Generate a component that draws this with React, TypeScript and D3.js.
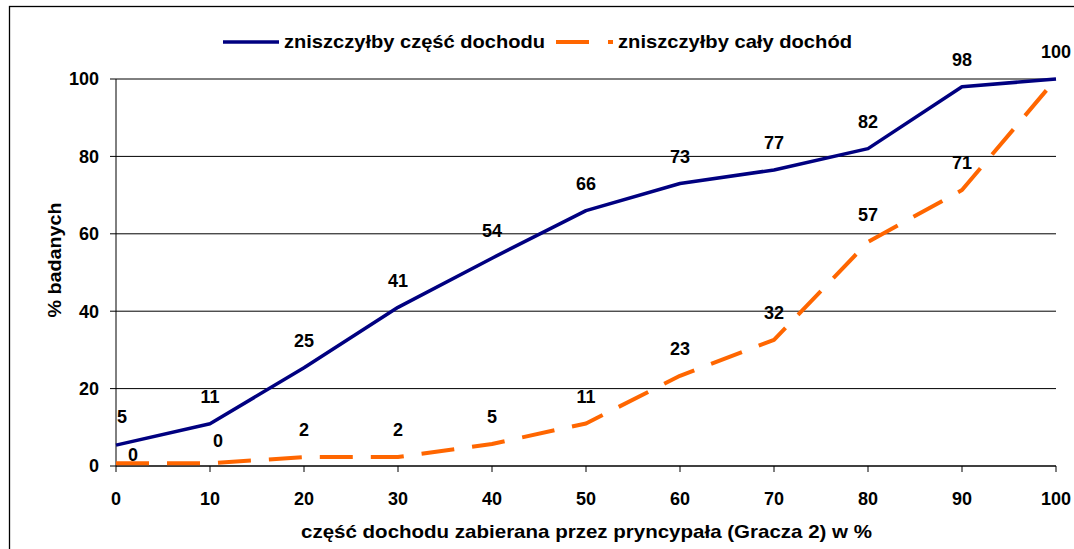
import React from "react";
import * as d3 from "d3";

const xValues = [0, 10, 20, 30, 40, 50, 60, 70, 80, 90, 100];
const partIncome = [5.4, 10.9, 25.4, 41, 53.7, 66, 73, 76.5, 82, 98, 100];
const wholeIncome = [0.7, 0.7, 2.3, 2.3, 5.7, 11, 23.3, 32.6, 57.9, 71.3, 100];
const partLabels = ["5", "11", "25", "41", "54", "66", "73", "77", "82", "98", "100"];
const wholeLabels = ["0", "0", "2", "2", "5", "11", "23", "32", "57", "71"];
const yTicks = [0, 20, 40, 60, 80, 100];
const seriesNames = ["zniszczyłby część dochodu", "zniszczyłby cały dochód"];
const xTitle = "część dochodu zabierana przez pryncypała (Gracza 2) w %";
const yTitle = "% badanych";

const W = 1074;
const H = 549;
const FONT = "'Liberation Sans', Arial, sans-serif";
const BLUE = "#000080";
const ORANGE = "#FF6600";

export default function App() {
  const x = d3.scaleLinear().domain([0, 100]).range([116, 1056]);
  const y = d3.scaleLinear().domain([0, 100]).range([466, 79]);
  const line = d3
    .line<number>()
    .x((_, i) => x(xValues[i]))
    .y((d) => y(d));

  const wholeAdj = (i: number) => {
    if (i === 0) return { dx: 17, dy: -9 };
    if (i === 1) return { dx: 8, dy: -23 };
    return { dx: 0, dy: -27 };
  };
  const partAdj = (i: number) => (i === 0 ? { dx: 6, dy: -28 } : { dx: 0, dy: -27 });

  return (
    <svg
      width={W}
      height={H}
      style={{ position: "absolute", left: 0, top: 0, display: "block", background: "#fff" }}
      fontFamily={FONT}
      fontWeight="bold"
    >
      <rect x={0} y={0} width={W} height={H} fill="#fff" />
      <rect x={9.5} y={6.5} width={W + 20} height={H + 20} fill="none" stroke="#000" strokeWidth={1.3} />

      {/* gridlines */}
      {yTicks.slice(1).map((t) => (
        <line key={"g" + t} x1={x(0)} x2={x(100)} y1={y(t)} y2={y(t)} stroke="#000" strokeWidth={1} />
      ))}
      {/* axes */}
      <line x1={x(0)} x2={x(0)} y1={y(0)} y2={y(100)} stroke="#000" strokeWidth={1} />
      <line x1={x(0)} x2={x(100)} y1={y(0)} y2={y(0)} stroke="#000" strokeWidth={1.3} />
      {yTicks.map((t) => (
        <g key={"yt" + t}>
          <line x1={x(0) - 6} x2={x(0)} y1={y(t)} y2={y(t)} stroke="#000" />
          <text x={99} y={y(t)} dy="0.35em" textAnchor="end" fontSize={18}>
            {t}
          </text>
        </g>
      ))}
      {xValues.map((t) => (
        <g key={"xt" + t}>
          <line x1={x(t)} x2={x(t)} y1={y(0)} y2={y(0) + 6} stroke="#000" />
          <text x={x(t)} y={499} dy="0.35em" textAnchor="middle" fontSize={18}>
            {t}
          </text>
        </g>
      ))}

      <text x={301} y={532} dy="0.35em" fontSize={18.5} textLength={571} lengthAdjust="spacingAndGlyphs">
        {xTitle}
      </text>
      <text
        transform="translate(55, 260) rotate(-90)"
        dy="0.35em"
        textAnchor="middle"
        fontSize={18.5}
        textLength={115}
        lengthAdjust="spacingAndGlyphs"
      >
        {yTitle}
      </text>

      {/* series */}
      <path d={line(partIncome) || ""} fill="none" stroke={BLUE} strokeWidth={3.5} strokeLinejoin="round" />
      <path
        d={line(wholeIncome) || ""}
        fill="none"
        stroke={ORANGE}
        strokeWidth={4}
        strokeDasharray="33,18"
        strokeLinejoin="round"
      />

      {/* data labels */}
      {partLabels.map((l, i) => {
        const a = partAdj(i);
        return (
          <text key={"pl" + i} x={x(xValues[i]) + a.dx} y={y(partIncome[i]) + a.dy} dy="0.35em" textAnchor="middle" fontSize={18}>
            {l}
          </text>
        );
      })}
      {wholeLabels.map((l, i) => {
        const a = wholeAdj(i);
        return (
          <text key={"wl" + i} x={x(xValues[i]) + a.dx} y={y(wholeIncome[i]) + a.dy} dy="0.35em" textAnchor="middle" fontSize={18}>
            {l}
          </text>
        );
      })}

      {/* legend */}
      <line x1={223} x2={279} y1={42} y2={42} stroke={BLUE} strokeWidth={3.5} />
      <text x={284} y={42} dy="0.35em" fontSize={18.5} textLength={261} lengthAdjust="spacingAndGlyphs">
        {seriesNames[0]}
      </text>
      <line x1={556} x2={613} y1={42} y2={42} stroke={ORANGE} strokeWidth={4} strokeDasharray="33,19" />
      <text x={618} y={42} dy="0.35em" fontSize={18.5} textLength={234} lengthAdjust="spacingAndGlyphs">
        {seriesNames[1]}
      </text>
    </svg>
  );
}
